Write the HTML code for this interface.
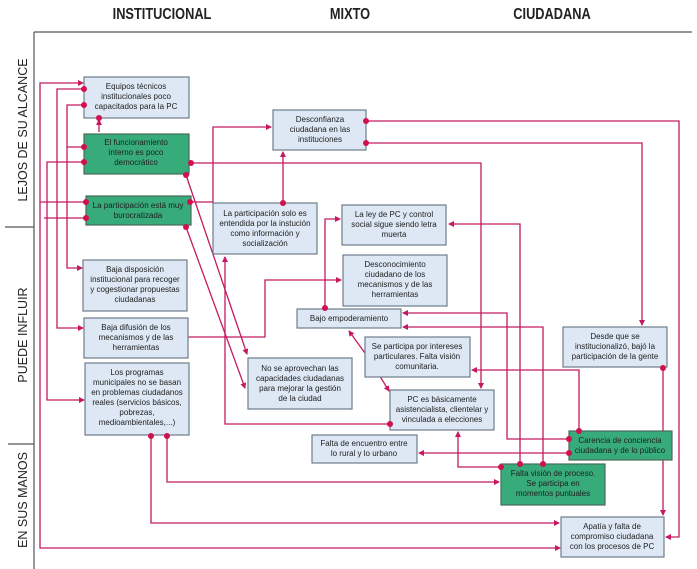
<!DOCTYPE html>
<html><head><meta charset="utf-8"><style>
body{margin:0;background:#fff;}
svg{display:block;}
.b{fill:#dde8f4;stroke:#6f7d8c;stroke-width:1.2;}
.g{fill:#38ab7b;stroke:#4a6a5a;stroke-width:1.2;}
.t{font-family:"Liberation Sans",sans-serif;font-size:8px;fill:#1e1e1e;text-anchor:middle;}
.h{font-family:"Liberation Sans",sans-serif;font-size:16px;font-weight:bold;fill:#222;text-anchor:middle;}
.s{font-family:"Liberation Sans",sans-serif;font-size:12.5px;fill:#222;text-anchor:middle;}
.l{fill:none;stroke:#c41a62;stroke-width:1.3;}
.d{fill:#d0104f;}
</style></head><body>
<svg width="697" height="569" viewBox="0 0 697 569" xmlns="http://www.w3.org/2000/svg">
<defs><marker id="a" markerWidth="6" markerHeight="6" refX="5" refY="3" orient="auto" markerUnits="userSpaceOnUse"><path d="M0,0 L6,3 L0,6 z" fill="#c41a62"/></marker></defs>
<text class="h" transform="translate(162,19) scale(0.8,1)">INSTITUCIONAL</text>
<text class="h" transform="translate(350,19) scale(0.8,1)">MIXTO</text>
<text class="h" transform="translate(552,19) scale(0.8,1)">CIUDADANA</text>
<g stroke="#555" stroke-width="1.2">
<line x1="34" y1="32" x2="692" y2="32"/><line x1="34" y1="32" x2="34" y2="569"/>
<line x1="5" y1="227" x2="34" y2="227"/><line x1="8" y1="444" x2="34" y2="444"/>
</g>
<text class="s" transform="translate(27,130) rotate(-90)">LEJOS DE SU ALCANCE</text>
<text class="s" transform="translate(27,335) rotate(-90)">PUEDE INFLUIR</text>
<text class="s" transform="translate(27,500) rotate(-90)">EN SUS MANOS</text>

<g class="l">
<path d="M40,202 L40,83 L83,83" marker-end="url(#a)"/>
<path d="M86,202 L40,202 L40,548 L560,548" marker-end="url(#a)"/>
<path d="M86,218 L44,218"/>
<path d="M84,162 L47,162 L47,400 L84,400" marker-end="url(#a)"/>
<path d="M84,89 L57,89 L57,328 L83,328" marker-end="url(#a)"/>
<path d="M84,105 L67,105 L67,268 L82,268" marker-end="url(#a)"/>
<path d="M84,147 L67,147"/>
<path d="M99,132 L99,120" marker-end="url(#a)"/>
<path d="M191,163 L481,163 L481,388" marker-end="url(#a)"/>
<path d="M186,175 L247,354" marker-end="url(#a)"/>
<path d="M186,227 L245,388" marker-end="url(#a)"/>
<path d="M190,202 L213,202 L213,127 L271,127" marker-end="url(#a)"/>
<path d="M283,203 L283,152" marker-end="url(#a)"/>
<path d="M390,424 L225,424 L225,257" marker-end="url(#a)"/>
<path d="M366,121 L679,121 L679,537 L666,537" marker-end="url(#a)"/>
<path d="M366,143 L642,143 L642,325" marker-end="url(#a)"/>
<path d="M520,464 L520,224 L449,224" marker-end="url(#a)"/>
<path d="M325,308 L325,219 L340,219" marker-end="url(#a)"/>
<path d="M188,337 L265,337 L265,280 L341,280" marker-end="url(#a)"/>
<path d="M569,439 L507,439 L507,313 L403,313" marker-end="url(#a)"/>
<path d="M543,464 L543,327 L403,327" marker-end="url(#a)"/>
<path d="M370,360 L349,331" marker-end="url(#a)"/>
<path d="M370,360 L389,391" marker-end="url(#a)"/>
<path d="M579,431 L579,370 L472,370" marker-end="url(#a)"/>
<path d="M501,467 L458,467 L458,432" marker-end="url(#a)"/>
<path d="M569,453 L419,453" marker-end="url(#a)"/>
<path d="M167,436 L167,482 L499,482" marker-end="url(#a)"/>
<path d="M151,436 L151,523 L559,523" marker-end="url(#a)"/>
<path d="M663,368 L663,515" marker-end="url(#a)"/>
</g>

<rect class="b" x="84" y="77" width="105" height="41"/>
<text class="t" x="136" y="89">Equipos técnicos<tspan x="136" dy="10">institucionales poco</tspan><tspan x="136" dy="10">capacitados para la PC</tspan></text>
<rect class="g" x="84" y="134" width="105" height="40"/>
<text class="t" x="136" y="145">El funcionamiento<tspan x="136" dy="10">interno es poco</tspan><tspan x="136" dy="10">democrático</tspan></text>
<rect class="g" x="86" y="196" width="105" height="29"/>
<text class="t" x="138" y="208">La participación está muy<tspan x="138" dy="10">burocratizada</tspan></text>
<rect class="b" x="273" y="110" width="93" height="40"/>
<text class="t" x="320" y="122">Desconfianza<tspan x="320" dy="10">ciudadana en las</tspan><tspan x="320" dy="10">instituciones</tspan></text>
<rect class="b" x="213" y="203" width="104" height="51"/>
<text class="t" x="265" y="216">La participación solo es<tspan x="265" dy="10">entendida por la instución</tspan><tspan x="265" dy="10">como información y</tspan><tspan x="265" dy="10">socialización</tspan></text>
<rect class="b" x="342" y="205" width="104" height="40"/>
<text class="t" x="394" y="217">La ley de PC y control<tspan x="394" dy="10">social sigue siendo letra</tspan><tspan x="394" dy="10">muerta</tspan></text>
<rect class="b" x="343" y="255" width="104" height="51"/>
<text class="t" x="395" y="267">Desconocimiento<tspan x="395" dy="10">ciudadano de los</tspan><tspan x="395" dy="10">mecanismos y de las</tspan><tspan x="395" dy="10">herramientas</tspan></text>
<rect class="b" x="297" y="309" width="104" height="19"/>
<text class="t" x="349" y="321">Bajo empoderamiento</text>
<rect class="b" x="365" y="337" width="105" height="40"/>
<text class="t" x="417" y="349">Se participa por intereses<tspan x="417" dy="10">particulares. Falta visión</tspan><tspan x="417" dy="10">comunitaria.</tspan></text>
<rect class="b" x="248" y="358" width="104" height="51"/>
<text class="t" x="300" y="371">No se aprovechan las<tspan x="300" dy="10">capacidades ciudadanas</tspan><tspan x="300" dy="10">para mejorar la gestión</tspan><tspan x="300" dy="10">de la ciudad</tspan></text>
<rect class="b" x="390" y="390" width="104" height="40"/>
<text class="t" x="442" y="402">PC es básicamente<tspan x="442" dy="10">asistencialista, clientelar y</tspan><tspan x="442" dy="10">vinculada a elecciones</tspan></text>
<rect class="b" x="83" y="260" width="104" height="51"/>
<text class="t" x="135" y="272">Baja disposición<tspan x="135" dy="10">institucional para recoger</tspan><tspan x="135" dy="10">y cogestionar propuestas</tspan><tspan x="135" dy="10">ciudadanas</tspan></text>
<rect class="b" x="84" y="318" width="104" height="40"/>
<text class="t" x="136" y="330">Baja difusión de los<tspan x="136" dy="10">mecanismos y de las</tspan><tspan x="136" dy="10">herramientas</tspan></text>
<rect class="b" x="85" y="363" width="104" height="72"/>
<text class="t" x="137" y="375">Los programas<tspan x="137" dy="10">municipales no se basan</tspan><tspan x="137" dy="10">en problemas ciudadanos</tspan><tspan x="137" dy="10">reales (servicios básicos,</tspan><tspan x="137" dy="10">pobrezas,</tspan><tspan x="137" dy="10">medioambientales,...)</tspan></text>
<rect class="b" x="312" y="435" width="105" height="28"/>
<text class="t" x="364" y="446">Falta de encuentro entre<tspan x="364" dy="10">lo rural y lo urbano</tspan></text>
<rect class="g" x="569" y="431" width="103" height="29"/>
<text class="t" x="620" y="443">Carencia de conciencia<tspan x="620" dy="10">ciudadana y de lo público</tspan></text>
<rect class="g" x="501" y="464" width="104" height="41"/>
<text class="t" x="553" y="476">Falta visión de proceso.<tspan x="553" dy="10">Se participa en</tspan><tspan x="553" dy="10">momentos puntuales</tspan></text>
<rect class="b" x="563" y="327" width="104" height="40"/>
<text class="t" x="615" y="339">Desde que se<tspan x="615" dy="10">institucionalizó, bajó la</tspan><tspan x="615" dy="10">participación de la gente</tspan></text>
<rect class="b" x="561" y="517" width="103" height="40"/>
<text class="t" x="612" y="529">Apatía y falta de<tspan x="612" dy="10">compromiso ciudadana</tspan><tspan x="612" dy="10">con los procesos de PC</tspan></text>

<g class="d">
<circle cx="84" cy="89" r="3"/><circle cx="84" cy="105" r="3"/><circle cx="99" cy="118" r="3"/>
<circle cx="84" cy="147" r="3"/><circle cx="84" cy="162" r="3"/><circle cx="191" cy="163" r="3"/><circle cx="186" cy="175" r="3"/>
<circle cx="86" cy="202" r="3"/><circle cx="86" cy="218" r="3"/><circle cx="190" cy="202" r="3"/><circle cx="186" cy="227" r="3"/>
<circle cx="283" cy="203" r="3"/><circle cx="366" cy="121" r="3"/><circle cx="366" cy="143" r="3"/>
<circle cx="325" cy="308" r="3"/><circle cx="390" cy="424" r="3"/>
<circle cx="520" cy="464" r="3"/><circle cx="543" cy="464" r="3"/><circle cx="501" cy="467" r="3"/>
<circle cx="569" cy="439" r="3"/><circle cx="569" cy="453" r="3"/><circle cx="579" cy="431" r="3"/>
<circle cx="151" cy="436" r="3"/><circle cx="167" cy="436" r="3"/><circle cx="663" cy="368" r="3"/>
</g>
</svg>
</body></html>
